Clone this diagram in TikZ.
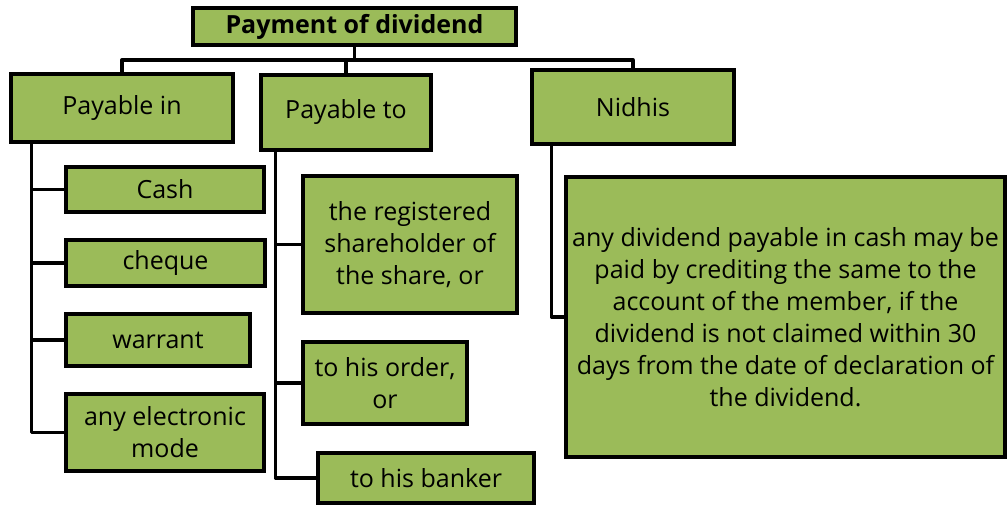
\documentclass[tikz,border=0pt]{standalone}
\usepackage{fontspec}
\setmainfont{Open Sans}
\definecolor{leafgreen}{RGB}{155,187,89}
\tikzset{>=latex,
	box/.style = {draw = black, fill = leafgreen, line width = 3.3pt, inner sep = 0pt, align = center, font = \fontsize{25}{32}\selectfont},
	link/.style = {draw = black, line width = 3.3pt, line cap = round, line join = round}}

\begin{document}
\begin{tikzpicture}[x = 1pt, y = -1pt]
	\useasboundingbox (0, 0) rectangle (1008, 506);
	% top level
	\node[box, minimum width = 323, minimum height = 37, font = \fontsize{25}{32}\selectfont\bfseries] (title) at (354.5, 26.5) {Payment of dividend};
	\node[box, minimum width = 222, minimum height = 68] (pin) at (122, 108) {Payable in};
	\node[box, minimum width = 170, minimum height = 75] (pto) at (346, 112.5) {Payable to};
	\node[box, minimum width = 202, minimum height = 74] (nid) at (633, 107) {Nidhis};
	\coordinate (hub) at (354.5, 60);
	\draw[link] (title) -- (hub);
	\draw[link] (hub) -| (pin.north);
	\draw[link] (hub) -| (pto.north);
	\draw[link] (hub) -| (nid.north);
	% payable in
	\node[box, minimum width = 198, minimum height = 45] (cash) at (165, 189.5) {Cash};
	\node[box, minimum width = 199, minimum height = 46] (cheque) at (165.5, 263) {cheque};
	\node[box, minimum width = 184, minimum height = 52] (warrant) at (158, 340) {warrant};
	\node[box, minimum width = 198, minimum height = 77] (emode) at (165, 432.5) {any electronic\\mode};
	\foreach \leaf in {cash, cheque, warrant, emode}
		\draw[link] ([xshift = 22pt]pin.south west) |- (\leaf.west);
	% payable to
	\node[box, minimum width = 214, minimum height = 137] (reg) at (410, 244.5) {the registered\\shareholder of\\the share, or};
	\node[box, minimum width = 164, minimum height = 82] (order) at (385, 383) {to his order,\\or};
	\node[box, minimum width = 216, minimum height = 50] (banker) at (426, 478) {to his banker};
	\foreach \leaf in {reg, order, banker}
		\draw[link] ([xshift = 16pt]pto.south west) |- (\leaf.west);
	% nidhis
	\node[box, minimum width = 439, minimum height = 280] (note) at (785.5, 317) {any dividend payable in cash may be\\paid by crediting the same to the\\account of the member, if the\\dividend is not claimed within 30\\days from the date of declaration of\\the dividend.};
	\draw[link] ([xshift = 21pt]nid.south west) |- (note.west);
\end{tikzpicture}
\end{document}
